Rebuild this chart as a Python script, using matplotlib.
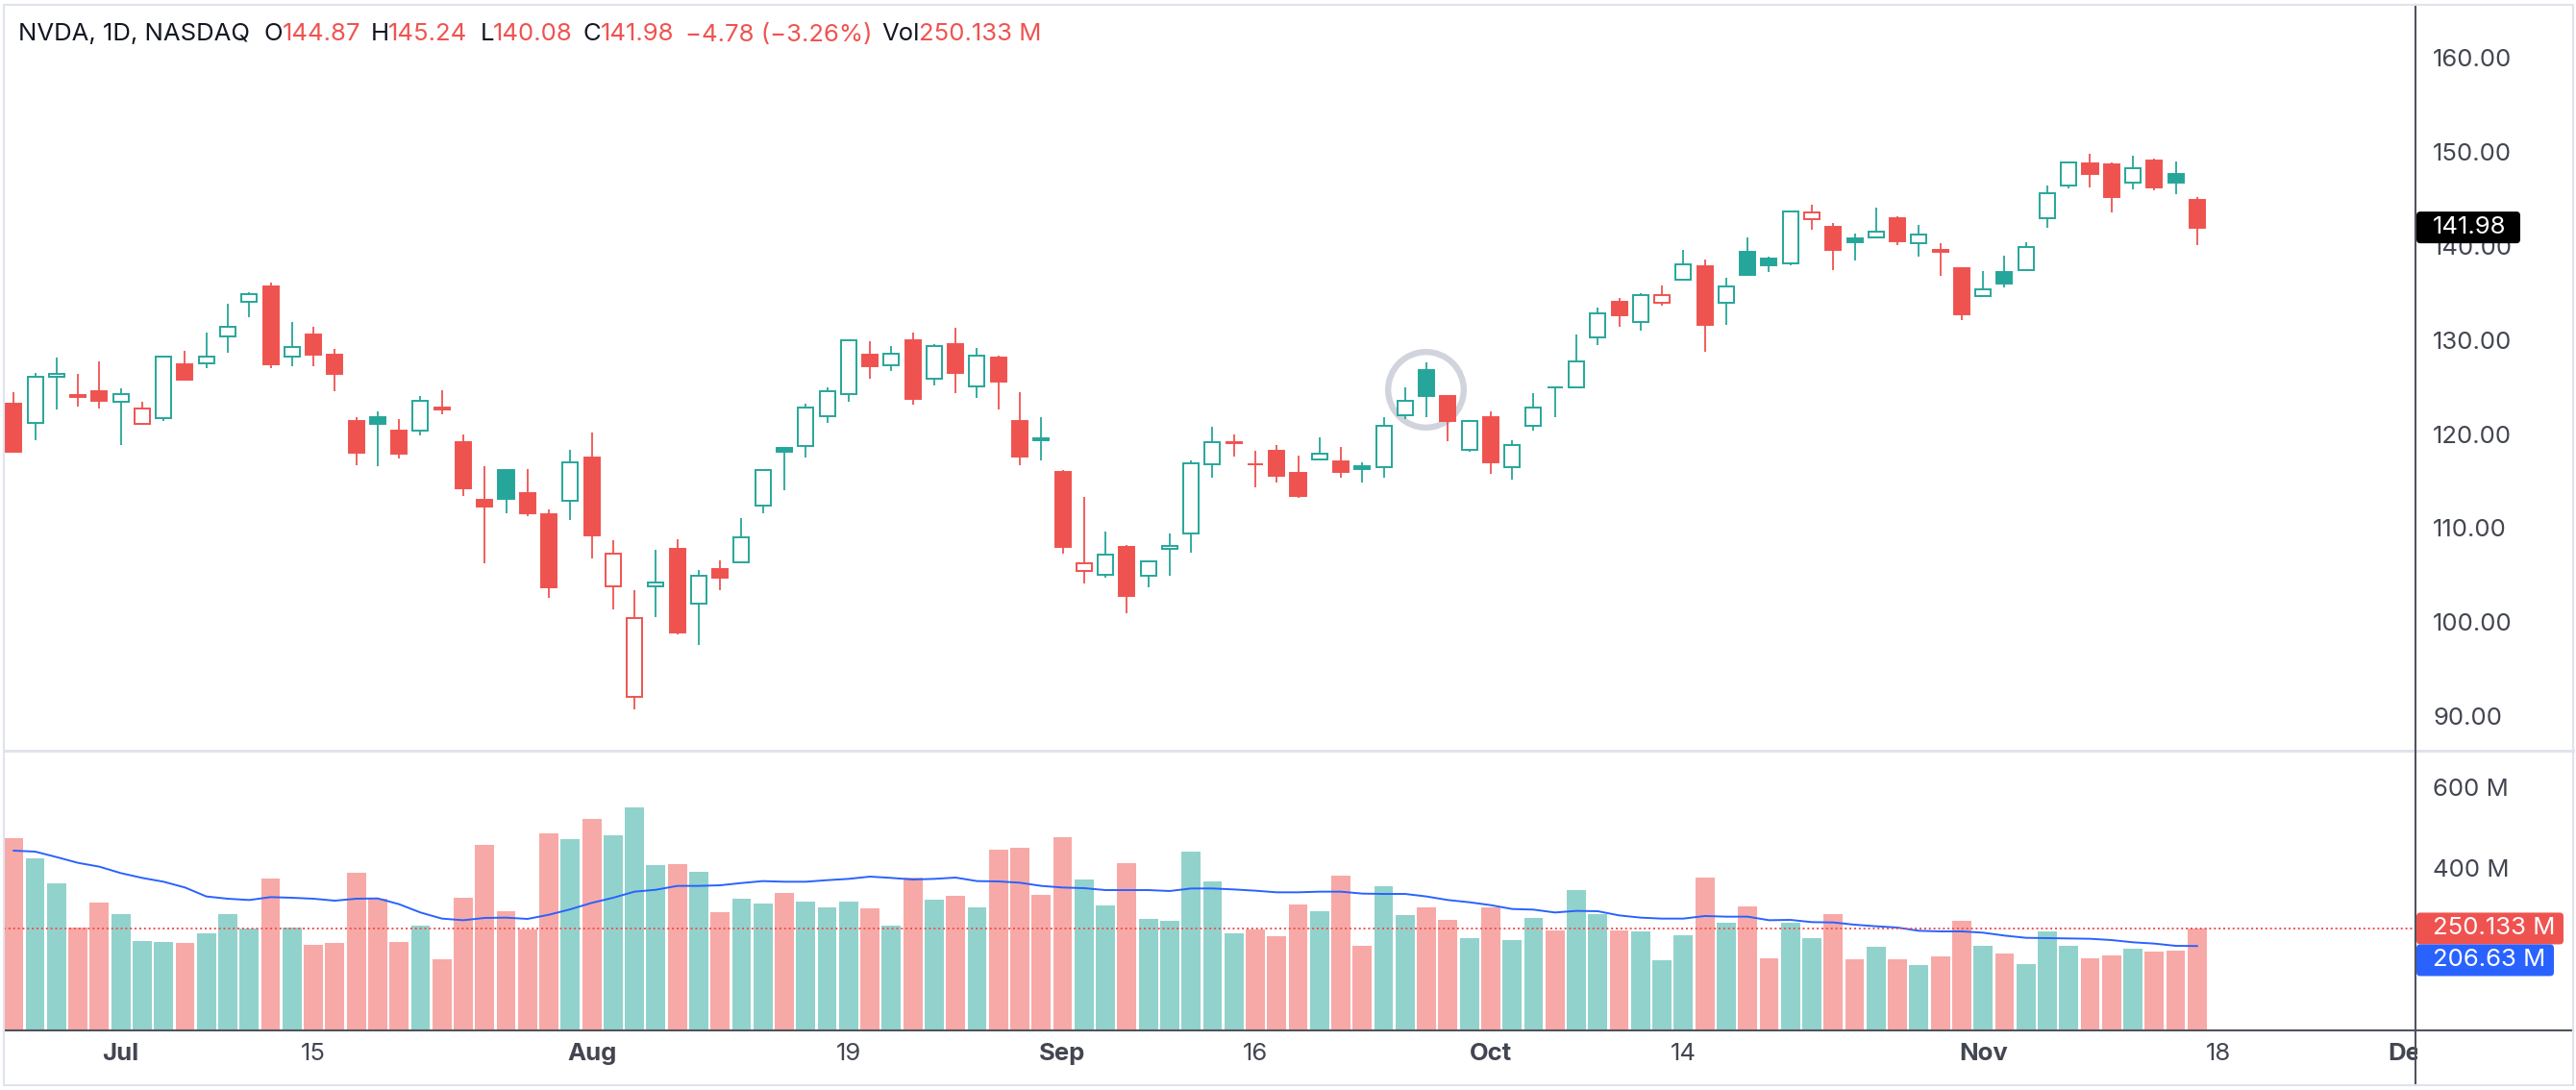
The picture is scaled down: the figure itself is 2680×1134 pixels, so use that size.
import numpy as np
import matplotlib
matplotlib.use("Agg")
import matplotlib.pyplot as plt
from matplotlib.patches import Rectangle, FancyBboxPatch
from matplotlib.lines import Line2D
from matplotlib.transforms import IdentityTransform

# ---- data (NVDA daily) ----
dates = [
    "2024-06-24", "2024-06-25", "2024-06-26", "2024-06-27", "2024-06-28",
    "2024-07-01", "2024-07-02", "2024-07-03", "2024-07-05", "2024-07-08",
    "2024-07-09", "2024-07-10", "2024-07-11", "2024-07-12", "2024-07-15",
    "2024-07-16", "2024-07-17", "2024-07-18", "2024-07-19", "2024-07-22",
    "2024-07-23", "2024-07-24", "2024-07-25", "2024-07-26", "2024-07-29",
    "2024-07-30", "2024-07-31", "2024-08-01", "2024-08-02", "2024-08-05",
    "2024-08-06", "2024-08-07", "2024-08-08", "2024-08-09", "2024-08-12",
    "2024-08-13", "2024-08-14", "2024-08-15", "2024-08-16", "2024-08-19",
    "2024-08-20", "2024-08-21", "2024-08-22", "2024-08-23", "2024-08-26",
    "2024-08-27", "2024-08-28", "2024-08-29", "2024-08-30", "2024-09-03",
    "2024-09-04", "2024-09-05", "2024-09-06", "2024-09-09", "2024-09-10",
    "2024-09-11", "2024-09-12", "2024-09-13", "2024-09-16", "2024-09-17",
    "2024-09-18", "2024-09-19", "2024-09-20", "2024-09-23", "2024-09-24",
    "2024-09-25", "2024-09-26", "2024-09-27", "2024-09-30", "2024-10-01",
    "2024-10-02", "2024-10-03", "2024-10-04", "2024-10-07", "2024-10-08",
    "2024-10-09", "2024-10-10", "2024-10-11", "2024-10-14", "2024-10-15",
    "2024-10-16", "2024-10-17", "2024-10-18", "2024-10-21", "2024-10-22",
    "2024-10-23", "2024-10-24", "2024-10-25", "2024-10-28", "2024-10-29",
    "2024-10-30", "2024-10-31", "2024-11-01", "2024-11-04", "2024-11-05",
    "2024-11-06", "2024-11-07", "2024-11-08", "2024-11-11", "2024-11-12",
    "2024-11-13", "2024-11-14", "2024-11-15",
]
opens = [
    123.24, 121.20, 126.13, 124.10, 124.58, 123.47, 121.13, 121.66, 127.38, 127.49,
    130.35, 134.03, 135.75, 128.26, 130.56, 128.44, 121.35, 121.85, 120.35, 120.35,
    122.78, 119.17, 113.04, 116.19, 113.69, 111.52, 112.90, 117.53, 103.76, 92.06,
    103.84, 107.81, 102.00, 105.64, 106.32, 112.44, 118.53, 118.76, 121.94, 124.28,
    128.40, 127.32, 130.02, 125.86, 129.57, 125.05, 128.12, 121.36, 119.53, 116.01,
    105.41, 104.99, 108.04, 104.88, 107.81, 109.39, 116.84, 119.08, 116.79, 118.17,
    115.89, 117.35, 117.06, 116.55, 116.52, 122.02, 126.80, 124.00, 118.31, 121.77,
    116.44, 120.92, 124.94, 124.99, 130.26, 134.11, 131.91, 134.01, 136.47, 137.87,
    133.98, 139.34, 138.67, 138.13, 142.91, 142.03, 140.82, 140.93, 143.00, 140.29,
    139.54, 137.60, 134.70, 137.21, 137.45, 142.96, 146.39, 148.77, 148.68, 146.78,
    149.07, 147.64, 144.87,
]
highs = [
    124.46, 126.50, 128.12, 126.41, 127.71, 124.84, 123.41, 128.28, 128.85, 130.77,
    133.82, 135.10, 136.15, 131.92, 131.39, 129.04, 121.85, 122.40, 121.60, 124.07,
    124.69, 119.95, 116.63, 116.20, 116.28, 111.99, 118.34, 120.16, 108.72, 103.41,
    107.71, 108.80, 105.50, 106.60, 111.07, 116.23, 118.60, 123.24, 125.00, 130.00,
    129.88, 129.35, 130.75, 129.60, 131.26, 129.20, 128.33, 124.43, 121.75, 116.21,
    113.27, 109.65, 108.15, 106.55, 109.40, 117.19, 120.79, 119.96, 118.18, 118.80,
    117.70, 119.66, 118.62, 116.99, 121.80, 124.94, 127.67, 124.03, 121.50, 122.44,
    119.38, 124.36, 125.04, 130.64, 133.48, 134.52, 135.00, 135.78, 139.60, 138.57,
    136.62, 140.89, 138.90, 143.71, 144.42, 142.43, 141.35, 144.13, 143.14, 142.26,
    140.33, 137.61, 137.31, 138.96, 140.37, 146.49, 148.93, 149.77, 148.85, 149.65,
    149.33, 149.00, 145.24,
]
lows = [
    118.04, 119.32, 122.60, 122.92, 122.75, 118.83, 121.03, 121.36, 125.68, 127.04,
    128.65, 132.42, 127.05, 127.22, 127.18, 124.58, 116.72, 116.56, 117.37, 119.86,
    122.10, 113.44, 106.30, 111.58, 111.30, 102.54, 110.88, 106.81, 101.37, 90.69,
    100.55, 98.69, 97.52, 103.43, 106.26, 111.58, 114.07, 117.47, 121.18, 123.42,
    125.89, 126.66, 123.10, 125.22, 124.37, 123.88, 122.64, 116.71, 117.22, 107.29,
    104.12, 104.76, 100.95, 103.69, 104.95, 107.42, 115.38, 117.60, 114.36, 114.83,
    113.22, 117.25, 115.39, 114.86, 115.38, 121.61, 121.80, 119.26, 118.15, 115.79,
    115.14, 120.34, 121.83, 124.95, 129.42, 131.38, 131.00, 133.66, 136.30, 128.74,
    131.58, 136.87, 137.28, 138.00, 141.78, 137.46, 138.46, 140.80, 140.05, 138.90,
    136.81, 132.11, 134.57, 135.57, 137.33, 141.96, 146.17, 146.26, 143.57, 146.01,
    145.90, 145.55, 140.08,
]
closes = [
    118.11, 126.09, 126.40, 123.99, 123.54, 124.30, 122.67, 128.28, 125.83, 128.20,
    131.38, 134.91, 127.40, 129.24, 128.44, 126.36, 117.99, 121.09, 117.93, 123.54,
    122.59, 114.25, 112.28, 113.06, 111.59, 103.73, 117.02, 109.21, 107.27, 100.45,
    104.25, 98.91, 104.97, 104.75, 109.02, 116.14, 118.08, 122.86, 124.58, 130.00,
    127.25, 128.50, 123.74, 129.37, 126.46, 128.30, 125.61, 117.59, 119.37, 108.00,
    106.21, 107.21, 102.83, 106.47, 108.10, 116.91, 119.14, 119.10, 116.78, 115.59,
    113.37, 117.87, 116.00, 116.26, 120.87, 123.51, 124.04, 121.40, 121.44, 117.00,
    118.85, 122.85, 124.92, 127.72, 132.89, 132.65, 134.81, 134.80, 138.07, 131.60,
    135.72, 136.93, 138.00, 143.71, 143.59, 139.56, 140.41, 141.54, 140.52, 141.25,
    139.34, 132.76, 135.40, 136.05, 139.91, 145.61, 148.88, 147.63, 145.26, 148.29,
    146.27, 146.76, 141.98,
]
prev_close = 126.57  # close of the session before the first bar

# volume in millions
volumes = [
    473.8, 423.0, 361.9, 252.4, 313.5, 285.7, 219.0, 216.7, 214.3, 238.1,
    285.7, 250.8, 373.8, 252.4, 209.5, 214.3, 388.1, 323.8, 216.7, 257.1,
    173.8, 326.2, 457.1, 292.9, 247.6, 485.7, 471.4, 521.4, 481.0, 550.0,
    407.1, 409.5, 390.5, 290.5, 323.8, 311.9, 338.1, 316.7, 302.4, 316.7,
    300.0, 257.1, 376.2, 321.4, 331.0, 302.4, 445.2, 450.0, 333.3, 476.2,
    371.4, 307.1, 411.9, 273.8, 269.0, 440.5, 366.7, 238.1, 248.4, 231.0,
    309.5, 292.9, 381.0, 207.1, 354.8, 283.3, 302.4, 271.4, 226.2, 302.4,
    221.4, 276.2, 245.2, 345.2, 285.7, 245.2, 242.9, 171.4, 233.3, 376.2,
    264.3, 304.8, 176.2, 264.3, 226.2, 285.7, 173.8, 204.8, 173.8, 159.5,
    181.0, 269.0, 207.1, 188.1, 161.9, 242.9, 207.1, 176.2, 183.3, 200.0,
    192.9, 195.2, 250.133,
]
# volume moving average line (millions)
vol_ma = [
    442.9, 440.5, 427.0, 412.7, 403.2, 387.3, 375.4, 365.9, 351.6, 329.4,
    323.8, 320.6, 327.8, 326.2, 323.8, 319.0, 323.8, 324.6, 310.3, 289.7,
    274.6, 270.6, 276.2, 277.0, 273.8, 284.1, 297.6, 313.5, 326.2, 341.3,
    346.0, 355.6, 355.6, 357.1, 362.7, 367.5, 365.9, 365.9, 369.8, 373.0,
    378.6, 375.4, 371.4, 373.0, 376.2, 367.5, 366.7, 363.5, 355.6, 351.6,
    350.0, 345.2, 345.2, 345.2, 342.9, 349.2, 349.2, 346.8, 343.7, 339.7,
    339.7, 341.3, 341.3, 336.5, 335.7, 335.7, 329.4, 320.6, 315.1, 307.9,
    298.4, 296.8, 289.7, 293.7, 292.9, 282.5, 277.0, 274.6, 274.6, 281.0,
    279.4, 279.4, 270.6, 271.4, 265.9, 265.1, 259.5, 255.6, 252.4, 244.4,
    242.9, 242.9, 239.7, 232.5, 227.0, 226.2, 225.4, 224.6, 221.4, 215.9,
    212.7, 207.1, 206.63,
]

tick_labels = ["Jul", "15", "Aug", "19", "Sep", "16", "Oct", "14", "Nov", "18", "Dec"]
tick_dates = ["2024-07-01", "2024-07-15", "2024-08-01", "2024-08-19", "2024-09-03",
              "2024-09-16", "2024-10-01", "2024-10-14", "2024-11-01", "2024-11-18",
              "2024-12-02"]
holidays = ["2024-11-28"]
price_ticks = [90, 100, 110, 120, 130, 140, 150, 160]
vol_ticks = [400, 600]

# ---- styling ----
W, H, DPI = 2680, 1134, 100
UP, DOWN = "#26a69a", "#ef5350"
UP_VOL, DOWN_VOL = "#92d2cc", "#f7a9a7"
BLUE = "#2962ff"
DARK = "#131722"
AXIS_TEXT = "#434651"
LINE_DARK = "#50535e"
LINE_LIGHT = "#e0e3eb"
FS = 18.5

plt.rcParams["font.family"] = ["Inter", "DejaVu Sans"]

fig = plt.figure(figsize=(W / DPI, H / DPI), dpi=DPI)
fig.patch.set_facecolor("white")


def fx(px):
    return px / W


def fy(py):
    return 1 - py / H


ax_p = fig.add_axes([fx(4), fy(781), (2513 - 4) / W, (781 - 6) / H])
ax_v = fig.add_axes([fx(4), fy(1071), (2513 - 4) / W, (1071 - 781) / H])

x = np.arange(len(dates))
xlim = (-0.4625, 112.2)

# candles
prev = [prev_close] + closes[:-1]
for i in x:
    o, h, l, c = opens[i], highs[i], lows[i], closes[i]
    col = UP if c >= prev[i] else DOWN
    hollow = c > o
    ax_p.vlines(i, l, h, color=col, lw=1.3, zorder=2)
    bottom = min(o, c)
    height = max(abs(c - o), 0.05)
    ax_p.add_patch(Rectangle((i - 0.36, bottom), 0.72, height,
                             facecolor="white" if hollow else col,
                             edgecolor=col, lw=1.4, zorder=3))

# highlight ring around the 26 Sep candle
circle_x, circle_y = 65.97, 124.74
ax_p.plot([circle_x], [circle_y], marker="o", ms=56.6, mfc="none",
          mec="#d1d4dc", mew=4.6, zorder=1)

ax_p.set_xlim(*xlim)
ax_p.set_ylim(86.32, 165.56)
ax_p.yaxis.tick_right()
ax_p.set_yticks(price_ticks)
ax_p.set_yticklabels([f"{t:.2f}" for t in price_ticks])
ax_p.tick_params(axis="y", length=0, pad=13, labelsize=FS, labelcolor=AXIS_TEXT)
ax_p.tick_params(axis="x", length=0, labelbottom=False)
ax_p.set_xticks([])

# volume pane
vol_colors = [UP_VOL if c >= o else DOWN_VOL for o, c in zip(opens, closes)]
ax_v.bar(x, volumes, width=0.89, color=vol_colors, zorder=2)
ax_v.plot(x, vol_ma, color=BLUE, lw=1.4, zorder=3)
ax_v.axhline(volumes[-1], color=DOWN, lw=1.4, ls=(0, (1, 1.5)), zorder=4)
ax_v.set_xlim(*xlim)
ax_v.set_ylim(0, 690.5)
ax_v.yaxis.tick_right()
ax_v.set_yticks(vol_ticks)
ax_v.set_yticklabels([f"{t} M" for t in vol_ticks])
ax_v.tick_params(axis="y", length=0, pad=13, labelsize=FS, labelcolor=AXIS_TEXT)

# x ticks: trading-day index, future dates counted in business days
last = np.datetime64(dates[-1])
tick_pos = []
for d in tick_dates:
    if d in dates:
        tick_pos.append(dates.index(d))
    else:
        tick_pos.append(len(dates) - 1 + np.busday_count(last, np.datetime64(d), holidays=holidays))
ax_v.set_xticks(tick_pos)
ax_v.set_xticklabels(tick_labels)
ax_v.tick_params(axis="x", length=0, pad=10, labelsize=FS, labelcolor=AXIS_TEXT)
for lab in ax_v.get_xticklabels():
    if not lab.get_text().isdigit():
        lab.set_fontweight("bold")

for ax in (ax_p, ax_v):
    for s in ax.spines.values():
        s.set_visible(False)

# frame lines (figure pixels, top-left origin)
fig.add_artist(Rectangle((fx(2514.5), fy(1127)), (2676 - 2514.5) / W, (1127 - 1074) / H,
                         transform=fig.transFigure, facecolor="white", edgecolor="none", zorder=10))
fig.add_artist(Line2D([fx(4), fx(2677)], [fy(781), fy(781)], color=LINE_LIGHT, lw=2.2, zorder=11))
fig.add_artist(Line2D([fx(4), fx(2677)], [fy(1072), fy(1072)], color=LINE_DARK, lw=1.5, zorder=11))
fig.add_artist(Line2D([fx(2513), fx(2513)], [fy(5), fy(1129)], color=LINE_DARK, lw=1.5, zorder=11))
fig.add_artist(Rectangle((fx(4), fy(1129)), (2677 - 4) / W, (1129 - 5) / H,
                         transform=fig.transFigure, facecolor="none", edgecolor=LINE_LIGHT,
                         lw=1.5, zorder=11))

# last-value labels on the scales (display pixels)
ident = IdentityTransform()
BOX_H = 33


def scale_label(y_disp, text, color, right):
    fig.add_artist(FancyBboxPatch((2514, y_disp - BOX_H / 2), right - 2514, BOX_H,
                                  boxstyle="round,pad=0,rounding_size=4",
                                  transform=ident, facecolor=color, edgecolor="none", zorder=12))
    fig.text(2531, y_disp, text, transform=ident, color="white", fontsize=FS,
             va="center", ha="left", zorder=13)


y_close = ax_p.transData.transform((0, closes[-1]))[1]
scale_label(y_close, f"{closes[-1]:.2f}", "black", 2622)
y_vol = ax_v.transData.transform((0, volumes[-1]))[1]
scale_label(y_vol, f"{volumes[-1]:.3f} M", DOWN, 2667)
y_ma = ax_v.transData.transform((0, vol_ma[-1]))[1]
y_ma = min(y_ma, y_vol - BOX_H)
scale_label(y_ma, f"{vol_ma[-1]:.2f} M", BLUE, 2657)

# header legend
change = closes[-1] - closes[-2]
pct = change / closes[-2] * 100
header = [
    ("NVDA, 1D, NASDAQ", DARK, 15),
    ("O", DARK, -1), (f"{opens[-1]:.2f}", DOWN, 11),
    ("H", DARK, -1), (f"{highs[-1]:.2f}", DOWN, 13),
    ("L", DARK, -1), (f"{lows[-1]:.2f}", DOWN, 11),
    ("C", DARK, -1), (f"{closes[-1]:.2f}", DOWN, 12),
    (f"\u2212{abs(change):.2f} (\u2212{abs(pct):.2f}%)", DOWN, 10),
    ("Vol", DARK, -1), (f"{volumes[-1]:.3f} M", DOWN, 0),
]
renderer = fig.canvas.get_renderer()
xpos = 19
for txt, col, gap in header:
    t = fig.text(fx(xpos), fy(36), txt, color=col, fontsize=FS, va="center", ha="left")
    xpos += t.get_window_extent(renderer).width + gap

fig.savefig("out.png", dpi=DPI, facecolor="white")
